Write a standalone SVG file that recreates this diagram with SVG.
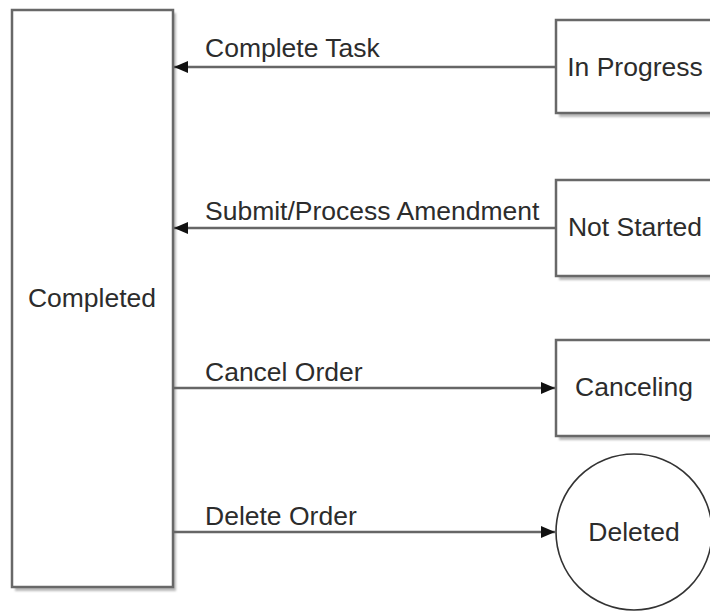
<svg xmlns="http://www.w3.org/2000/svg" width="710" height="611" viewBox="0 0 710 611">
<style>
.box{fill:#ffffff;stroke:#686868;stroke-width:2.5}
.shadow{fill:#b8b8b8;stroke:none}
.lbl{font-family:"Liberation Sans",Arial,sans-serif;font-size:26.5px;fill:#2c2c2c}
.mid{text-anchor:middle}
.edge{stroke:#666666;stroke-width:2.4;fill:none}
</style>
<defs>
<filter id="blur" x="-10%" y="-10%" width="120%" height="120%"><feGaussianBlur stdDeviation="1.1"/></filter>
<marker id="arr" viewBox="0 0 14 12" refX="14" refY="6" markerWidth="14" markerHeight="12" markerUnits="userSpaceOnUse" orient="auto">
<path d="M0,0 L14,6 L0,12 Z" fill="#111111"/>
</marker>
</defs>
<rect width="710" height="611" fill="#ffffff"/>
<g id="completed">
<rect class="shadow" x="15" y="13" width="161" height="578" filter="url(#blur)"/>
<rect class="box" x="12" y="10" width="161" height="577"/>
<text class="lbl mid" x="92" y="307">Completed</text>
</g>
<g id="inprogress">
<rect class="shadow" x="559" y="23" width="160" height="94" filter="url(#blur)"/>
<rect class="box" x="556" y="20" width="158" height="93"/>
<text class="lbl mid" x="635" y="76">In Progress</text>
</g>
<g id="notstarted">
<rect class="shadow" x="559" y="183" width="160" height="97" filter="url(#blur)"/>
<rect class="box" x="556" y="180" width="158" height="96"/>
<text class="lbl mid" x="635" y="236">Not Started</text>
</g>
<g id="canceling">
<rect class="shadow" x="559" y="343" width="160" height="97" filter="url(#blur)"/>
<rect class="box" x="556" y="340" width="158" height="96"/>
<text class="lbl mid" x="634" y="396">Canceling</text>
</g>
<g id="deleted">
<circle cx="634" cy="532" r="78" fill="#ffffff" stroke="#333333" stroke-width="1.6"/>
<text class="lbl mid" x="634" y="541">Deleted</text>
</g>
<g id="connectors">
<line class="edge" x1="556" y1="67" x2="174" y2="67" marker-end="url(#arr)"/>
<line class="edge" x1="556" y1="228" x2="174" y2="228" marker-end="url(#arr)"/>
<line class="edge" x1="173" y1="388" x2="555" y2="388" marker-end="url(#arr)"/>
<line class="edge" x1="173" y1="532" x2="555" y2="532" marker-end="url(#arr)"/>
<text class="lbl" x="205" y="57">Complete Task</text>
<text class="lbl" x="205" y="220">Submit/Process Amendment</text>
<text class="lbl" x="205" y="381">Cancel Order</text>
<text class="lbl" x="205" y="525">Delete Order</text>
</g>
</svg>
